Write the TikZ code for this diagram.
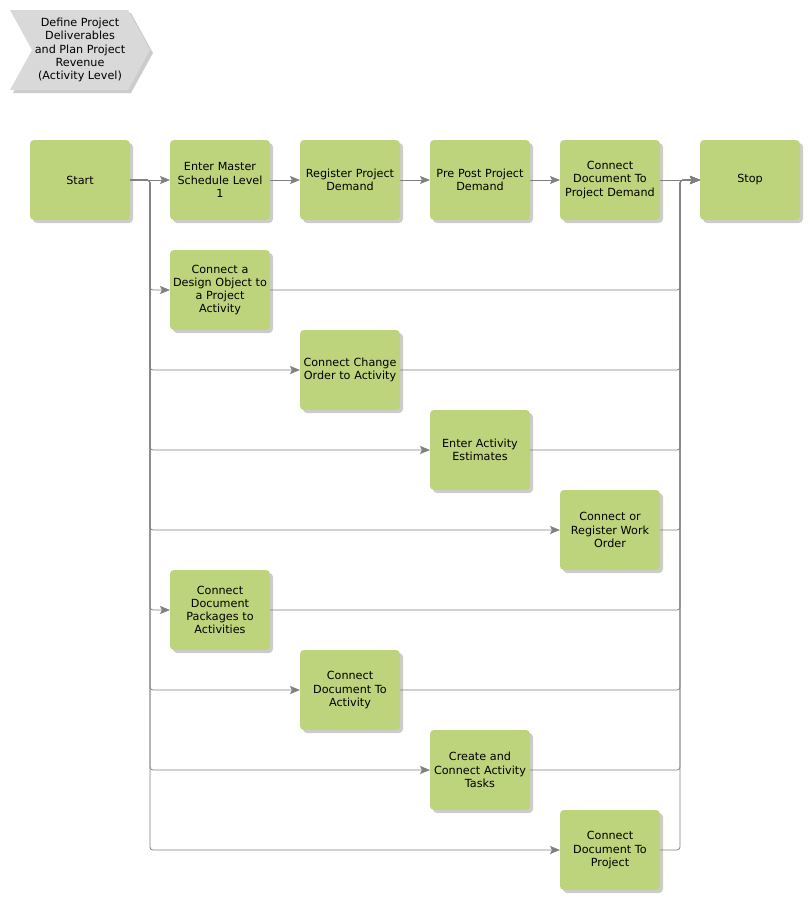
\documentclass[tikz,border=0pt]{standalone}
\usepackage{fontspec}
\setmainfont{DejaVu Sans}
\usepackage{tikz}
\usetikzlibrary{arrows.meta,positioning,shadows}

\definecolor{boxgreen}{RGB}{190,212,124}
\definecolor{linegray}{RGB}{128,128,128}
\definecolor{chevgray}{RGB}{217,217,217}

\begin{document}
\begin{tikzpicture}[
x=1pt,y=-1pt,
node distance=30pt,
box/.style={fill=boxgreen,rounded corners=4pt,minimum width=100pt,minimum height=80pt,text width=98pt,inner sep=1pt,outer sep=0pt,align=center,font=\fontsize{11.2}{13.2}\selectfont,drop shadow={shadow xshift=3pt,shadow yshift=-3pt,fill=black,opacity=.2}},
arrow/.style={-{Stealth[length=10pt,width=8pt,inset=2pt]},draw=linegray,line width=.75pt},
flow/.style={arrow,rounded corners=3pt}
]
\useasboundingbox (0,0) rectangle (810,900);
% title chevron
\fill[chevgray,drop shadow={shadow xshift=3pt,shadow yshift=-3pt,fill=black,opacity=.2}]
  (10,10) -- (128,10) -- (150,50) -- (128,90) -- (10,90) -- (32,50) -- cycle;
\node[align=center,font=\fontsize{11.2}{13.2}\selectfont] (title) at (80,50) {Define Project\\Deliverables\\and Plan Project\\Revenue\\(Activity Level)};
% main row
\node[box] (start) at (80,180) {Start};
\node[box,right=40pt of start] (ems) {Enter Master\\Schedule Level\\1};
\node[box,right=of ems] (reg) {Register Project\\Demand};
\node[box,right=of reg] (pre) {Pre Post Project\\Demand};
\node[box,right=of pre] (cdpd) {Connect\\Document To\\Project Demand};
\node[box,right=40pt of cdpd] (stop) {Stop};
% parallel steps
\node[box,below=of ems] (dobj) {Connect a\\Design Object to\\a Project\\Activity};
\node[box,below right=0pt and 30pt of dobj] (chg) {Connect Change\\Order to Activity};
\node[box,below right=0pt and 30pt of chg] (est) {Enter Activity\\Estimates};
\node[box,below right=0pt and 30pt of est] (wo) {Connect or\\Register Work\\Order};
\node[box,below=240pt of dobj] (dpk) {Connect\\Document\\Packages to\\Activities};
\node[box,below right=0pt and 30pt of dpk] (dta) {Connect\\Document To\\Activity};
\node[box,below right=0pt and 30pt of dta] (tsk) {Create and\\Connect Activity\\Tasks};
\node[box,below right=0pt and 30pt of tsk] (dtp) {Connect\\Document To\\Project};
\coordinate (fork) at ([xshift=20pt]start.east);
\coordinate (merge) at ([xshift=-20pt]stop.west);
% main flow
\draw[arrow] (start) -- (ems);
\draw[arrow] (ems) -- (reg);
\draw[arrow] (reg) -- (pre);
\draw[arrow] (pre) -- (cdpd);
\draw[arrow] (cdpd) -- (stop);
% fork
\draw[flow] (start.east) -- (fork) |- (dobj.west);
\draw[flow] (start.east) -- (fork) |- (chg.west);
\draw[flow] (start.east) -- (fork) |- (est.west);
\draw[flow] (start.east) -- (fork) |- (wo.west);
\draw[flow] (start.east) -- (fork) |- (dpk.west);
\draw[flow] (start.east) -- (fork) |- (dta.west);
\draw[flow] (start.east) -- (fork) |- (tsk.west);
\draw[flow] (start.east) -- (fork) |- (dtp.west);
% merge
\draw[flow] (dobj.east) -| (merge) -- (stop.west);
\draw[flow] (chg.east) -| (merge) -- (stop.west);
\draw[flow] (est.east) -| (merge) -- (stop.west);
\draw[flow] (wo.east) -| (merge) -- (stop.west);
\draw[flow] (dpk.east) -| (merge) -- (stop.west);
\draw[flow] (dta.east) -| (merge) -- (stop.west);
\draw[flow] (tsk.east) -| (merge) -- (stop.west);
\draw[flow] (dtp.east) -| (merge) -- (stop.west);
\end{tikzpicture}
\end{document}
